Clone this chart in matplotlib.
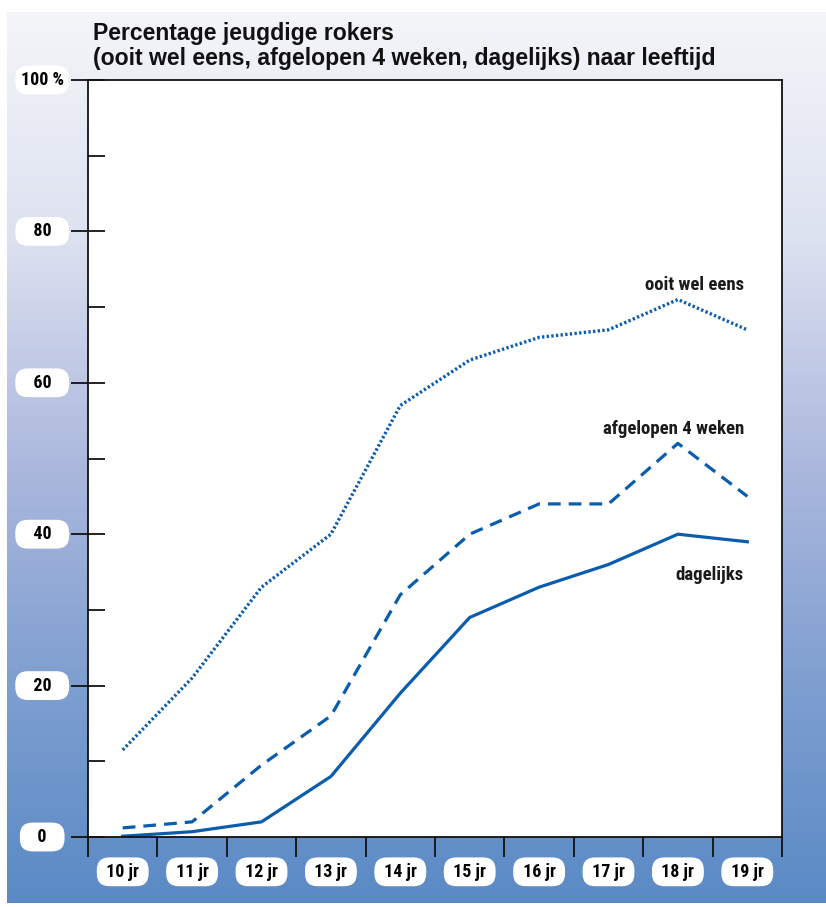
import numpy as np
import matplotlib
matplotlib.use("Agg")
import matplotlib.pyplot as plt
from matplotlib.colors import LinearSegmentedColormap

# data
ages = ["10 jr", "11 jr", "12 jr", "13 jr", "14 jr", "15 jr", "16 jr", "17 jr", "18 jr", "19 jr"]
ooit = [11.5, 21, 33, 40, 57, 63, 66, 67, 71, 67]
vier_weken = [1.2, 2, 9.5, 16, 32, 40, 44, 44, 52, 45]
dagelijks = [0.1, 0.7, 2, 8, 19, 29, 33, 36, 40, 39]
y_major = [0, 20, 40, 60, 80, 100]
y_major_labels = ["0", "20", "40", "60", "80", "100 %"]
y_minor = [10, 30, 50, 70, 90]

title = "Percentage jeugdige rokers\n(ooit wel eens, afgelopen 4 weken, dagelijks) naar leeftijd"
blue = "#0a5cad"
narrow = ["Liberation Sans Narrow", "Roboto Condensed", "DejaVu Sans Condensed", "Liberation Sans"]

fig = plt.figure(figsize=(8.26, 9.07), dpi=100)

# achtergrond met verloop
bg = fig.add_axes([7 / 826, 4 / 907, 819 / 826, 891 / 907])
cmap = LinearSegmentedColormap.from_list("bg", ["#f4f5f9", "#dde2f0", "#adb9de", "#7f9fd0", "#5a8ac5"])
bg.imshow(np.linspace(0, 1, 256).reshape(-1, 1), aspect="auto", cmap=cmap, extent=[0, 1, 0, 1])
bg.set_axis_off()

ax = fig.add_axes([88 / 826, 1 - 837 / 907, 694 / 826, 757 / 907])
ax.set_facecolor("white")
x = np.arange(len(ages))

ax.plot(x, ooit, color=blue, lw=2.4, linestyle=(0, (0.7, 0.7)))
ax.plot(x, vier_weken, color=blue, lw=2.3, linestyle=(0, (4, 2.5)))
ax.plot(x, dagelijks, color=blue, lw=2.3)

ax.set_xlim(-0.5, len(ages) - 0.5)
ax.set_ylim(0, 100)
for s in ax.spines.values():
    s.set_linewidth(1.3)
    s.set_color("#111111")

ax.set_yticks(y_major)
ax.set_yticks(y_minor, minor=True)
ax.set_yticklabels([])
ax.tick_params(axis="y", which="major", direction="inout", length=25, width=1.3, color="#111111")
ax.tick_params(axis="y", which="minor", direction="in", length=12.5, width=1.3, color="#111111")
ax.set_xticks(np.arange(len(ages) + 1) - 0.5)
ax.set_xticklabels([])
ax.tick_params(axis="x", direction="out", length=14.5, width=1.3, color="#111111")

box = dict(boxstyle="round,pad=0.3,rounding_size=0.7", fc="white", ec="none")
for v, lab in zip(y_major, y_major_labels):
    txt = lab if lab.endswith("%") else "   " + lab + "   "
    ax.text(-0.066, v, txt, transform=ax.get_yaxis_transform(), ha="center", va="center",
            fontsize=13, fontweight="bold", family=narrow, bbox=box, clip_on=False, zorder=5)
for i, lab in enumerate(ages):
    ax.text(i, -0.046, " " + lab + " ", transform=ax.get_xaxis_transform(), ha="center", va="center",
            fontsize=13, fontweight="bold", family=narrow, bbox=box, clip_on=False)

# lijnlabels
lab_kw = dict(ha="right", va="center", fontsize=13.5, fontweight="bold", family=narrow, color="#1a1a1a")
ax.text(8.95, 72.9, "ooit wel eens", **lab_kw)
ax.text(8.95, 53.9, "afgelopen 4 weken", **lab_kw)
ax.text(8.95, 34.6, "dagelijks", **lab_kw)

fig.text(93 / 826, 1 - 22 / 907, title, ha="left", va="top", fontsize=16.6, fontweight="bold",
         family=["Liberation Sans", "DejaVu Sans"], color="#111111", linespacing=1.13)

fig.savefig("out.png", dpi=100)
